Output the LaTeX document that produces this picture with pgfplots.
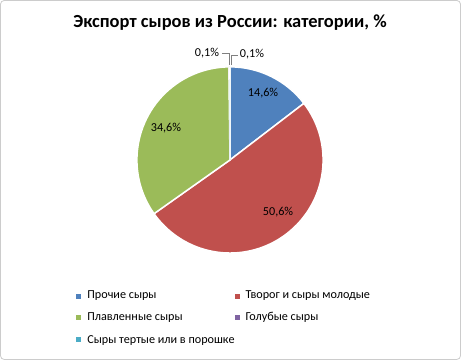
\documentclass[border=0pt]{standalone}
\usepackage{pgfplots}
\usepackage{pgfplotstable}
\pgfplotsset{compat=1.18}
\usepackage{fontspec}
\setmainfont{Carlito}
\definecolor{cA}{HTML}{4F81BD}
\definecolor{cB}{HTML}{C0504D}
\definecolor{cC}{HTML}{9BBB59}
\definecolor{cD}{HTML}{8064A2}
\definecolor{cE}{HTML}{4BACC6}
\pgfplotstableread{
idx val
0 14.6
1 50.6
2 34.6
3 0.1
4 0.1
}\piedata
\begin{document}
\begin{tikzpicture}
\pgfplotstablegetelem{0}{val}\of\piedata \let\vA\pgfplotsretval
\pgfplotstablegetelem{1}{val}\of\piedata \let\vB\pgfplotsretval
\pgfplotstablegetelem{2}{val}\of\piedata \let\vC\pgfplotsretval
\pgfplotstablegetelem{3}{val}\of\piedata \let\vD\pgfplotsretval
\pgfplotstablegetelem{4}{val}\of\piedata \let\vE\pgfplotsretval
\pgfmathsetmacro\sA{90}
\pgfmathsetmacro\eA{\sA-3.6*\vA}
\pgfmathsetmacro\eB{\eA-3.6*\vB}
\pgfmathsetmacro\eC{\eB-3.6*\vC}
\pgfmathsetmacro\eD{\eC-3.6*\vD}
\pgfmathsetmacro\eE{\eD-3.6*\vE}
\begin{axis}[x=1bp,y=1bp,xmin=0,xmax=461,ymin=0,ymax=360,hide axis,clip=false,
  scale only axis]
\draw[rounded corners=4bp,draw=black!20,line width=0.8bp] (axis cs:0.6,0.6) rectangle (axis cs:460.4,359.4);
\node[font=\fontsize{18.5}{21}\selectfont\bfseries] at (axis cs:230,337) {Экспорт сыров из России: категории, \%};
\fill[cA,draw=white,line width=1.5bp] (axis cs:230,200) -- ++(\sA:93bp) arc[start angle=\sA,end angle=\eA,radius=93bp] -- cycle;
\fill[cB,draw=white,line width=1.5bp] (axis cs:230,200) -- ++(\eA:93bp) arc[start angle=\eA,end angle=\eB,radius=93bp] -- cycle;
\fill[cC,draw=white,line width=1.5bp] (axis cs:230,200) -- ++(\eB:93bp) arc[start angle=\eB,end angle=\eC,radius=93bp] -- cycle;
\fill[cD,draw=white,line width=0.5bp] (axis cs:230,200) -- ++(\eC:93bp) arc[start angle=\eC,end angle=\eD,radius=93bp] -- cycle;
\fill[cE,draw=white,line width=0.5bp] (axis cs:230,200) -- ++(\eD:93bp) arc[start angle=\eD,end angle=\eE,radius=93bp] -- cycle;
\begin{scope}[font=\fontsize{12.2}{14}\selectfont]
\node at (axis cs:263,267) {14,6\%};
\node at (axis cs:278,148) {50,6\%};
\node at (axis cs:166,232) {34,6\%};
\node at (axis cs:207,307) {0,1\%};
\node at (axis cs:252,306) {0,1\%};
\draw[black!50,line width=0.6bp] (axis cs:222,307) -- (axis cs:229,307) -- (axis cs:229,295);
\draw[black!50,line width=0.6bp] (axis cs:231.5,295) -- (axis cs:231.5,305) -- (axis cs:238,305);
\fill[cA] (axis cs:76.5,61.5) rectangle (axis cs:81.5,66.5);
\node[anchor=west] at (axis cs:84,64) {Прочие сыры};
\fill[cB] (axis cs:234.5,61.5) rectangle (axis cs:239.5,66.5);
\node[anchor=west] at (axis cs:242,64) {Творог и сыры молодые};
\fill[cC] (axis cs:76.5,40.5) rectangle (axis cs:81.5,45.5);
\node[anchor=west] at (axis cs:84,43) {Плавленные сыры};
\fill[cD] (axis cs:234.5,40.5) rectangle (axis cs:239.5,45.5);
\node[anchor=west] at (axis cs:242,43) {Голубые сыры};
\fill[cE] (axis cs:76.5,18.5) rectangle (axis cs:81.5,23.5);
\node[anchor=west] at (axis cs:84,20) {Сыры тертые или в порошке};
\end{scope}
\end{axis}
\end{tikzpicture}
\end{document}
